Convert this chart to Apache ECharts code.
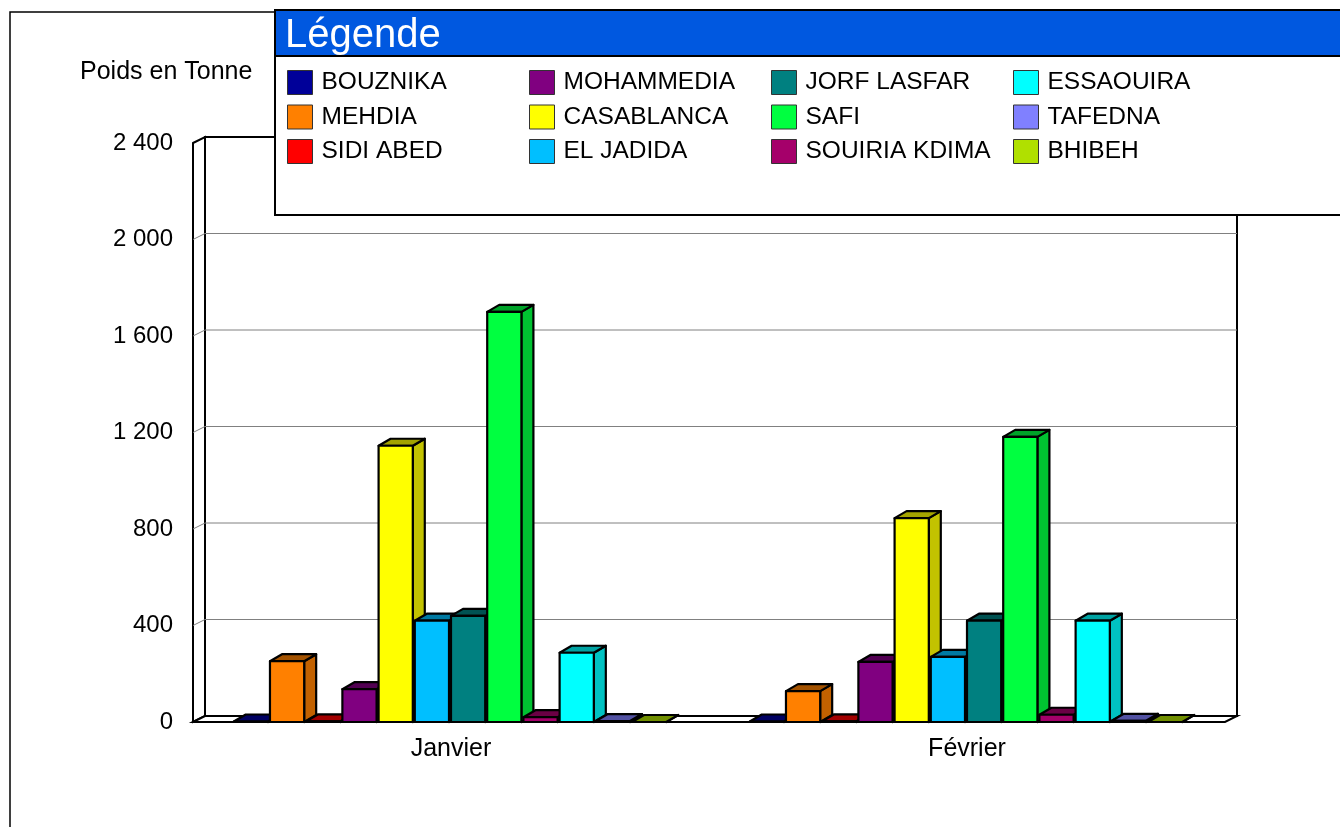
<!DOCTYPE html>
<html>
<head>
<meta charset="utf-8">
<script src="https://cdn.jsdelivr.net/npm/echarts@6/dist/echarts.min.js"></script>
<style>
  html, body { margin: 0; padding: 0; background: #fff; }
  #chart { width: 1340px; height: 827px; }
</style>
</head>
<body>
<div id="chart"></div>
<script>
// données : poids en tonne par port et par mois
var months = ['Janvier', 'Février'];
var ports = ['BOUZNIKA', 'MEHDIA', 'SIDI ABED', 'MOHAMMEDIA', 'CASABLANCA', 'EL JADIDA',
             'JORF LASFAR', 'SAFI', 'SOUIRIA KDIMA', 'ESSAOUIRA', 'TAFEDNA', 'BHIBEH'];
var portColors = ['#000099', '#FF8000', '#FF0000', '#800080', '#FFFF00', '#00BFFF',
                  '#008080', '#00FF40', '#A5006A', '#00FFFF', '#8080FF', '#B0E000'];
var janvier = [2, 252, 3, 136, 1145, 420, 440, 1700, 20, 287, 4, 0];
var fevrier = [2, 128, 3, 249, 845, 270, 420, 1182, 30, 420, 5, 0];
var yTicks = [0, 400, 800, 1200, 1600, 2000, 2400];

var FONT = '"Liberation Sans", Arial, sans-serif';
var DX = 12, DY = -6;        // profondeur 3D
var groupFrac = 0.842;       // part de la catégorie occupée par le groupe

function shade(hex, k) {
  var c = echarts.color.parse(hex);
  return 'rgb(' + Math.round(c[0] * k) + ',' + Math.round(c[1] * k) + ',' + Math.round(c[2] * k) + ')';
}

function fmt(v) {
  return String(v).replace(/\B(?=(\d{3})+(?!\d))/g, ' ');
}

// murs, sol et lignes de grille
function renderWalls(params, api) {
  var cs = params.coordSys;
  var x = cs.x, y = cs.y, w = cs.width, h = cs.height;
  var line = { stroke: '#000', lineWidth: 2, fill: '#fff' };
  var children = [
    { type: 'rect', shape: { x: x + DX, y: y + DY, width: w, height: h }, style: line },
    { type: 'polygon', shape: { points: [[x, y], [x + DX, y + DY], [x + DX, y + h + DY], [x, y + h]] }, style: line },
    { type: 'polygon', shape: { points: [[x, y + h], [x + DX, y + h + DY], [x + w + DX, y + h + DY], [x + w, y + h]] }, style: line }
  ];
  yTicks.forEach(function (v) {
    if (v === 0 || v === yTicks[yTicks.length - 1]) return;
    var yy = api.coord([0, v])[1];
    children.push({ type: 'line', shape: { x1: x + DX, y1: yy + DY, x2: x + w + DX, y2: yy + DY },
      style: { stroke: '#808080', lineWidth: 1 } });
    children.push({ type: 'line', shape: { x1: x, y1: yy, x2: x + DX, y2: yy + DY },
      style: { stroke: '#808080', lineWidth: 1 } });
  });
  return { type: 'group', children: children };
}

function makeBarRenderer(idx) {
  return function (params, api) {
    var cat = api.value(0);
    var base = api.coord([cat, 0]);
    var top = api.coord([cat, api.value(1)]);
    var band = api.size([1, 0])[0];
    var slot = band * groupFrac / ports.length;
    var xl = base[0] - band * groupFrac / 2 + idx * slot;
    var xr = xl + slot - 2;
    var yb = base[1], yt = top[1];
    var col = portColors[idx];
    var st = { stroke: '#000', lineWidth: 2.2, lineJoin: 'round' };
    return {
      type: 'group',
      children: [
        { type: 'polygon', shape: { points: [[xr, yt], [xr + DX, yt + DY - 1], [xr + DX, yb + DY - 1], [xr, yb]] },
          style: Object.assign({ fill: shade(col, 0.76) }, st) },
        { type: 'polygon', shape: { points: [[xl, yt], [xl + DX, yt + DY - 1], [xr + DX, yt + DY - 1], [xr, yt]] },
          style: Object.assign({ fill: shade(col, 0.64) }, st) },
        { type: 'rect', shape: { x: xl, y: yt, width: xr - xl, height: yb - yt },
          style: Object.assign({ fill: col }, st) }
      ]
    };
  };
}

var series = [{
  type: 'custom',
  name: 'murs',
  data: [[0, 0]],
  z: 1,
  silent: true,
  renderItem: renderWalls
}];
ports.forEach(function (p, i) {
  series.push({
    type: 'custom',
    name: p,
    itemStyle: { color: portColors[i] },
    data: [[0, janvier[i]], [1, fevrier[i]]],
    encode: { x: 0, y: 1 },
    z: 2,
    renderItem: makeBarRenderer(i)
  });
});

var legends = [0, 1, 2, 3].map(function (c) {
  return {
    orient: 'vertical',
    left: 287 + c * 242,
    top: 70,
    padding: 0,
    data: ports.slice(c * 3, c * 3 + 3),
    icon: 'rect',
    itemWidth: 25,
    itemHeight: 24,
    itemGap: 9.5,
    selectedMode: false,
    z: 20,
    itemStyle: { borderColor: '#333', borderWidth: 1 },
    textStyle: { fontSize: 24.5, color: '#000', fontFamily: FONT, padding: [0, 0, 0, 4] }
  };
});

var chart = echarts.init(document.getElementById('chart'));
chart.setOption({
  animation: false,
  backgroundColor: '#fff',
  textStyle: { fontFamily: FONT },
  title: {
    text: 'Poids en Tonne',
    left: 75, top: 55,
    textStyle: { fontSize: 25, fontWeight: 'normal', color: '#000', fontFamily: FONT }
  },
  legend: legends,
  grid: { left: 193, right: 115, top: 143, bottom: 105 },
  xAxis: {
    type: 'category',
    data: months,
    axisLine: { show: false },
    axisTick: { show: false },
    axisLabel: { fontSize: 25, color: '#000', margin: 15, fontFamily: FONT }
  },
  yAxis: {
    type: 'value',
    min: yTicks[0],
    max: yTicks[yTicks.length - 1],
    interval: yTicks[1] - yTicks[0],
    axisLine: { show: false },
    axisTick: { show: false },
    splitLine: { show: false },
    axisLabel: { fontSize: 24, color: '#000', margin: 20, fontFamily: FONT, formatter: fmt,
                 padding: [8, 0, 0, 0] }
  },
  graphic: [
    { type: 'rect', z: 0, silent: true, shape: { x: 10, y: 12, width: 1340, height: 830 },
      style: { fill: 'none', stroke: '#000', lineWidth: 1.5 } },
    { type: 'rect', z: 10, shape: { x: 275, y: 10, width: 1075, height: 205 },
      style: { fill: '#fff', stroke: '#000', lineWidth: 2 } },
    { type: 'rect', z: 11, shape: { x: 275, y: 10, width: 1075, height: 46 },
      style: { fill: '#0058E0', stroke: '#000', lineWidth: 2 } },
    { type: 'text', z: 12, left: 285, top: 16,
      style: { text: 'Légende', fill: '#fff', fontSize: 40, fontFamily: FONT } }
  ],
  series: series
});
</script>
</body>
</html>
